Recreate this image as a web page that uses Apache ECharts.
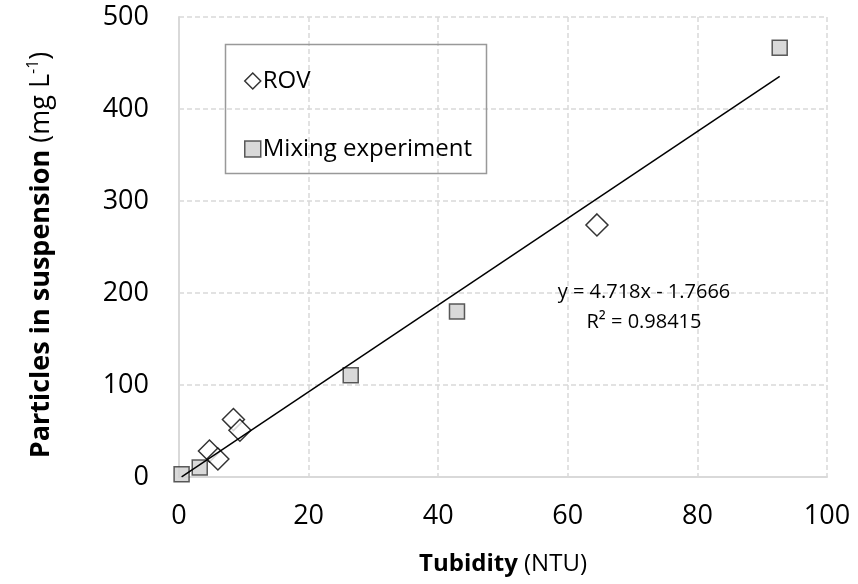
<!DOCTYPE html>
<html>
<head>
<meta charset="utf-8">
<script src="https://cdn.jsdelivr.net/npm/echarts@6/dist/echarts.min.js"></script>
<style>html,body{margin:0;padding:0;background:#fff;}#c{width:858px;height:584px;}</style>
</head>
<body>
<div id="c"></div>
<script>
var rovX = [8.4, 9.4, 4.7, 6.0, 64.5];
var rovY = [62.4, 50.8, 28.3, 19.6, 274];
var mixX = [0.4, 3.2, 26.5, 42.9, 92.7];
var mixY = [2.9, 10.2, 110.5, 180, 466.7];
var xTicks = [0, 20, 40, 60, 80, 100];
var yTicks = [0, 100, 200, 300, 400, 500];
var trendSlope = 4.718;
var trendIntercept = -1.7666;
var seriesNames = ['ROV', 'Mixing experiment'];
var eqLines = ['y = 4.718x - 1.7666', 'R² = 0.98415'];

var FONT = '"Open Sans", "Liberation Sans", sans-serif';
function pairs(xs, ys){ return xs.map(function(x,i){ return [x, ys[i]]; }); }
var tMin = Math.min.apply(null, mixX), tMax = Math.max.apply(null, mixX);
var trend = [[tMin, trendSlope*tMin + trendIntercept], [tMax, trendSlope*tMax + trendIntercept]];

var chart = echarts.init(document.getElementById('c'), null, {renderer:'canvas'});
chart.setOption({
  animation: false,
  backgroundColor: '#fff',
  grid: {left: 179, right: 31, top: 17, bottom: 107, containLabel: false},
  xAxis: {
    type: 'value', min: xTicks[0], max: xTicks[xTicks.length-1], interval: 20,
    axisLine: {show: true, lineStyle: {color: '#d9d9d9', width: 2}},
    axisTick: {show: false},
    axisLabel: {color: '#000', fontSize: 27, fontFamily: FONT, margin: 26},
    splitLine: {show: true, lineStyle: {color: '#d9d9d9', type: [5,3], width: 1.5}},
    name: '{b|Tubidity}{n| (NTU)}',
    nameLocation: 'middle', nameGap: 75,
    nameTextStyle: {rich: {
      b: {fontSize: 24, fontWeight: 'bold', fontFamily: FONT, color: '#000'},
      n: {fontSize: 24, fontFamily: FONT, color: '#000'}
    }}
  },
  yAxis: {
    type: 'value', min: yTicks[0], max: yTicks[yTicks.length-1], interval: 100,
    axisLine: {show: true, lineStyle: {color: '#d9d9d9', width: 2}},
    axisTick: {show: false},
    axisLabel: {color: '#000', fontSize: 27, fontFamily: FONT, margin: 30, padding: [8,0,0,0]},
    splitLine: {show: true, lineStyle: {color: '#d9d9d9', type: [5,3], width: 1.5}}
  },
  legend: {
    left: 239, top: 63, orient: 'vertical', itemGap: 42,
    itemWidth: 16, itemHeight: 16,
    textStyle: {fontSize: 24, fontFamily: FONT, color: '#000', lineHeight: 26, padding: [0,0,0,-3]},
    data: [
      {name: seriesNames[0], icon: 'diamond', itemStyle: {color: '#fff', borderColor: '#000', borderWidth: 1.5}},
      {name: seriesNames[1], icon: 'rect', itemStyle: {color: '#d0d0d0', borderColor: '#333', borderWidth: 1.5}}
    ]
  },
  graphic: [
    {type: 'rect', shape: {x: 225.5, y: 44.5, width: 261, height: 129}, style: {fill: 'rgba(0,0,0,0)', stroke: '#999', lineWidth: 1.5}, z: 5},
    {type: 'text', x: 644, y: 292, style: {text: eqLines[0], fontSize: 20, fontFamily: FONT, fill: '#000', align: 'center', verticalAlign: 'middle'}, z: 5},
    {type: 'text', x: 644, y: 322, style: {text: eqLines[1], fontSize: 20, fontFamily: FONT, fill: '#000', align: 'center', verticalAlign: 'middle'}, z: 5},
    {type: 'text', x: 41, y: 255, rotation: Math.PI/2, z: 5,
     style: {text: '{b|Particles in suspension}{n| (mg L}{s|-1}{n|)}', align: 'center', verticalAlign: 'middle',
       rich: {
         b: {fontSize: 27, fontWeight: 'bold', fontFamily: FONT, fill: '#000'},
         n: {fontSize: 27, fontFamily: FONT, fill: '#000'},
         s: {fontSize: 16, fontFamily: FONT, fill: '#000', padding: [0,0,15,0]}
       }}}
  ],
  series: [
    {name: seriesNames[0], type: 'scatter', symbol: 'diamond', symbolSize: 22,
     data: pairs(rovX, rovY), z: 3,
     itemStyle: {color: '#fff', borderColor: '#000', borderWidth: 1.5}},
    {name: seriesNames[1], type: 'scatter', symbol: 'rect', symbolSize: 15,
     data: pairs(mixX, mixY), z: 3,
     itemStyle: {color: '#d0d0d0', borderColor: '#333', borderWidth: 1.5}},
    {name: 'trend', type: 'line', data: trend, symbol: 'none', z: 4,
     lineStyle: {color: '#000', width: 1.5}, silent: true}
  ]
});
</script>
</body>
</html>
